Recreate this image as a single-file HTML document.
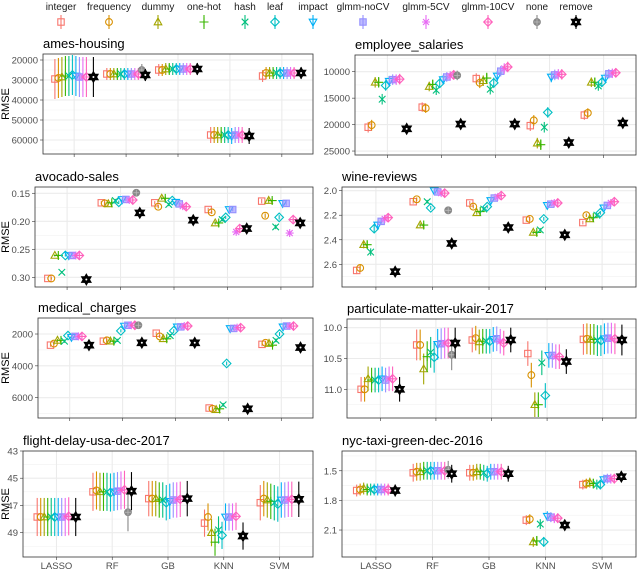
<!DOCTYPE html>
<html><head><meta charset="utf-8">
<style>
html,body{margin:0;padding:0;background:#fff;}
svg{display:block;font-family:"Liberation Sans",sans-serif;}
</style></head>
<body>
<svg id="chart" width="640" height="571" viewBox="0 0 640 571" xmlns="http://www.w3.org/2000/svg"></svg>
<script>
const categories = ["LASSO","RF","GB","KNN","SVM"];
const seriesNames = ["integer","frequency","dummy","one-hot","hash","leaf","impact","glmm-noCV","glmm-5CV","glmm-10CV","none","remove"];
const seriesColors = ["#F8766D","#D89000","#A3A500","#39B600","#00BF7D","#00BFC4","#00B0F6","#9590FF","#E76BF3","#FF62BC","#888888","#000000"];

const amesValues = [
[29500,27000,25000,57500,28000],[29000,27000,25000,57500,26500],[28500,27000,24500,57500,26500],
[28000,27000,24500,57500,26500],[28000,27000,24500,57500,26500],[27500,27000,24500,57500,26500],
[28000,27000,24500,58000,26500],[28500,27000,24500,57500,26500],[28500,27000,24500,57500,26500],
[28500,27000,24500,57500,26500],[null,25000,null,null,null],[28500,27500,24500,58000,26500]];
const amesErr = [10000,3000,3000,4000,3000];
const amesTicks = [20000,30000,40000,50000,60000];

const employeeValues = [
[20500,16700,11300,20200,18200],[20100,16900,12100,19200,17800],[12000,12800,11700,23500,12000],
[12000,12400,11200,23800,12000],[15200,13500,13300,20500,12700],[12600,12200,12100,17700,12000],
[11800,11500,10800,11000,11200],[11500,11000,9900,10600,10400],[11500,10800,9400,10500,10300],
[11400,10600,9100,10500,10200],[null,10700,null,null,null],[20800,19900,19900,23400,19700]];
const employeeErr = [1000,900,1000,1000,900];
const employeeTicks = [10000,15000,20000,25000];

const avocadoValues = [
[.302,.167,.167,.179,.164],[.302,.168,.174,.184,.190],[.261,.169,.159,.203,.163],
[.261,.167,.159,.203,.163],[.291,.163,.170,.197,.210],[.261,.166,.163,.193,.193],
[.261,.161,.166,.179,.168],[.261,.161,.169,.179,.168],[.261,.162,.173,.219,.221],
[.261,.162,.174,.213,.197],[null,.149,null,null,null],[.304,.185,.198,.213,.203]];
const avocadoErr = [.002,.003,.003,.003,.004];
const avocadoTicks = [0.15,0.20,0.25,0.30];

const wineValues = [
[2.65,2.09,2.10,2.24,2.26],[2.63,2.07,2.13,2.23,2.20],[2.44,2.28,2.18,2.34,2.23],
[2.44,2.28,2.17,2.34,2.22],[2.50,2.09,2.15,2.32,2.20],[2.31,2.14,2.13,2.23,2.18],
[2.28,2.00,2.08,2.12,2.14],[2.25,2.01,2.06,2.11,2.12],[2.23,2.02,2.05,2.10,2.10],
[2.22,2.02,2.04,2.10,2.09],[null,2.16,null,null,null],[2.66,2.43,2.30,2.36,null]];
const wineErr = [.03,.015,.015,.015,.015];
const wineTicks = [2.0,2.2,2.4,2.6];

const medicalValues = [
[2700,2450,1950,6650,2650],[2600,2400,2150,6700,2550],[2400,2450,2300,6750,2600],
[2400,2450,2300,6700,2700],[2450,2400,2100,6450,2400],[2100,1800,1800,3850,2000],
[2200,1500,1550,1650,1550],[2150,1450,1550,1650,1500],[2150,1450,1500,1600,1500],
[2150,1450,1500,1600,1500],[null,1450,null,null,null],[2700,2550,2550,6700,2850]];
const medicalErr = [100,100,100,120,120];
const medicalTicks = [2000,4000,6000];

const particulateValues = [
[11.0,10.28,10.2,10.42,10.19],[11.0,10.28,10.17,10.77,10.18],[10.83,10.67,10.23,11.25,10.19],
[10.85,10.47,10.22,11.25,10.19],[10.85,10.40,10.22,10.57,10.21],[10.85,10.48,10.22,11.10,10.21],
[10.83,10.27,10.19,10.45,10.18],[10.85,10.26,10.18,10.45,10.17],[10.83,10.25,10.22,10.47,10.17],
[10.83,10.25,10.25,10.47,10.18],[null,10.44,null,null,null],[11.0,10.25,10.2,10.55,10.2]];
const particulateErr = [.2,.25,.2,.2,.25];
const particulateTicks = ["10.0","10.5","11.0"];

const flightValues = [
[47.85,46.0,46.5,48.3,46.8],[47.85,45.9,46.5,47.85,46.5],[47.85,46.0,46.5,49.0,46.6],
[47.85,46.0,46.6,49.7,46.7],[47.85,46.0,46.6,48.8,46.8],[47.85,46.05,46.8,49.2,46.9],
[47.85,46.0,46.7,47.85,46.6],[47.85,45.95,46.6,47.85,46.6],[47.85,45.9,46.6,47.85,46.55],
[47.8,45.85,46.55,47.8,46.55],[null,47.5,null,null,null],[47.85,45.95,46.5,49.25,46.55]];
const flightErr = [1.4,1.4,1.3,1.0,1.3];
const flightTicks = [43,45,47,49];

const nycValues = [
[1.70,1.52,1.52,2.00,1.64],[1.69,1.51,1.52,1.99,1.63],[1.68,1.51,1.51,2.22,1.62],
[1.69,1.50,1.51,2.21,1.63],[1.69,1.50,1.52,2.04,1.64],[1.69,1.50,1.53,2.22,1.64],
[1.69,1.50,1.51,1.96,1.59],[1.69,1.50,1.51,1.97,1.58],[1.69,1.50,1.51,1.98,1.58],
[1.69,1.50,1.51,1.98,1.58],[null,1.49,null,null,null],[1.70,1.53,1.53,2.05,1.56]];
const nycErr = [.06,.09,.08,.05,.05];
const nycTicks = ["1.5","1.8","2.1"];

const NS="http://www.w3.org/2000/svg";
const svg=document.getElementById('chart');
function el(tag,attrs,parent){const e=document.createElementNS(NS,tag);for(const k in attrs)e.setAttribute(k,attrs[k]);(parent||svg).appendChild(e);return e;}

function shape(g,t,x,y,c){
  const s={stroke:c,fill:'none','stroke-width':1.1};
  if(t===0) el('rect',Object.assign({x:x-3.2,y:y-3.2,width:6.4,height:6.4},s),g);
  else if(t===1) el('circle',Object.assign({cx:x,cy:y,r:3.4},s),g);
  else if(t===2) el('polygon',Object.assign({points:`${x},${y-4} ${x-3.8},${y+2.8} ${x+3.8},${y+2.8}`},s),g);
  else if(t===3) el('path',Object.assign({d:`M${x-4.5},${y}H${x+4.5}M${x},${y-4.5}V${y+4.5}`},s),g);
  else if(t===4) el('path',Object.assign({d:`M${x-3.3},${y-3.3}L${x+3.3},${y+3.3}M${x-3.3},${y+3.3}L${x+3.3},${y-3.3}`},s),g);
  else if(t===5) el('polygon',Object.assign({points:`${x},${y-4.3} ${x+4.3},${y} ${x},${y+4.3} ${x-4.3},${y}`},s),g);
  else if(t===6) el('polygon',Object.assign({points:`${x},${y+4} ${x-3.8},${y-2.8} ${x+3.8},${y-2.8}`},s),g);
  else if(t===7){el('rect',{x:x-3.2,y:y-3.2,width:6.4,height:6.4,fill:c,'fill-opacity':0.6,stroke:c,'stroke-width':1.1},g);}
  else if(t===8) el('path',Object.assign({d:`M${x-4},${y}H${x+4}M${x},${y-4}V${y+4}M${x-3},${y-3}L${x+3},${y+3}M${x-3},${y+3}L${x+3},${y-3}`},s),g);
  else if(t===9){el('polygon',Object.assign({points:`${x},${y-4.3} ${x+4.3},${y} ${x},${y+4.3} ${x-4.3},${y}`},s),g);el('path',Object.assign({d:`M${x-4.3},${y}H${x+4.3}M${x},${y-4.3}V${y+4.3}`},s),g);}
  else if(t===10){el('circle',{cx:x,cy:y,r:3.4,fill:c,stroke:c,'stroke-width':1},g);el('path',{d:`M${x-3},${y}H${x+3}M${x},${y-3}V${y+3}`,stroke:'#bbb','stroke-width':0.8},g);}
  else if(t===11){const s2={stroke:c,fill:c,'stroke-width':1.2};
    el('polygon',Object.assign({points:`${x},${y-5.2} ${x-4.6},${y+2.7} ${x+4.6},${y+2.7}`},s2),g);
    el('polygon',Object.assign({points:`${x},${y+5.2} ${x-4.6},${y-2.7} ${x+4.6},${y-2.7}`},s2),g);
    el('circle',{cx:x,cy:y,r:1,fill:'#fff'},g);}
}

const legX=[61,109,158,204,245,275,313,363,426,488,537,576];
const leg=el('g',{});


seriesNames.forEach((n,i)=>{
  const g=el('g',{},leg);
  
  
  const t=el('text',{x:legX[i],y:10,'font-size':10,'text-anchor':'middle',fill:'#1a1a1a'},g);t.textContent=n;
  el('line',{x1:legX[i],x2:legX[i],y1:15,y2:29,stroke:seriesColors[i],'stroke-width':1.1},g);
  shape(g,i,legX[i],22,seriesColors[i]);
});

const panels=[
 {name:'ames-housing',vals:amesValues,err:amesErr,ticks:amesTicks,box:[43,54,313,154],dom:[17000,67000],step:10000,rmse:true},
 {name:'employee_salaries',vals:employeeValues,err:employeeErr,ticks:employeeTicks,box:[355,55,636,155],dom:[6840,25750],step:5000},
 {name:'avocado-sales',vals:avocadoValues,err:avocadoErr,ticks:avocadoTicks,box:[35,187,313,287],dom:[0.1388,0.3173],step:0.05,rmse:true,fmt:v=>v.toFixed(2)},
 {name:'wine-reviews',vals:wineValues,err:wineErr,ticks:wineTicks,box:[342,187,636,287],dom:[1.97,2.785],step:0.2,fmt:v=>v.toFixed(1)},
 {name:'medical_charges',vals:medicalValues,err:medicalErr,ticks:medicalTicks,box:[38,318,313,418],dom:[994,7277],step:2000,rmse:true},
 {name:'particulate-matter-ukair-2017',vals:particulateValues,err:particulateErr,ticks:particulateTicks,box:[347,319,636,418],dom:[9.859,11.466],step:0.5},
 {name:'flight-delay-usa-dec-2017',vals:flightValues,err:flightErr,ticks:flightTicks,box:[23,451,313,557],dom:[43,50.79],step:2,rmse:true,xl:true},
 {name:'nyc-taxi-green-dec-2016',vals:nycValues,err:nycErr,ticks:nycTicks,box:[342,451,636,557],dom:[1.30,2.373],step:0.3,xl:true}
];

panels.forEach(p=>{
  const [x0,y0,x1,y1]=p.box;
  const g=el('g',{});
  
  
  const ys=v=>y0+(v-p.dom[0])/(p.dom[1]-p.dom[0])*(y1-y0);
  const bw=(x1-x0)/5.2;
  const xs=i=>x0+(i+0.6)*bw;
  const tt=el('text',{x:x0,y:y0-6,'font-size':13,fill:'#000'},g);tt.textContent=p.name;
  
  
  el('rect',{x:x0,y:y0,width:x1-x0,height:y1-y0,fill:'#fff'},g);
  const tv=p.ticks.map(Number);
  const minors=tv.map(v=>v-p.step/2).concat([tv[tv.length-1]+p.step/2]);
  minors.forEach(v=>{const y=ys(v);if(y>y0&&y<y1)el('line',{x1:x0,x2:x1,y1:y,y2:y,stroke:'#f2f2f2','stroke-width':0.6},g);});
  tv.forEach((v,k)=>{const y=ys(v);el('line',{x1:x0,x2:x1,y1:y,y2:y,stroke:'#ebebeb','stroke-width':1.1},g);
    el('line',{x1:x0-3,x2:x0,y1:y,y2:y,stroke:'#333','stroke-width':0.6},g);
    const t=el('text',{x:x0-5,y:y+3.5,'font-size':9.5,'text-anchor':'end',fill:'#4d4d4d'},g);
    t.textContent=typeof p.ticks[k]==='string'?p.ticks[k]:(p.fmt?p.fmt(v):String(v));});
  categories.forEach((c,i)=>{const x=xs(i);el('line',{x1:x,x2:x,y1:y0,y2:y1,stroke:'#ebebeb','stroke-width':1.1},g);
    el('line',{x1:x,x2:x,y1:y1,y2:y1+3,stroke:'#333','stroke-width':0.6},g);
    if(p.xl){const t=el('text',{x:x,y:y1+12,'font-size':9.5,'text-anchor':'middle',fill:'#4d4d4d'},g);t.textContent=c;}
  });
  const cp='cp'+p.name.replace(/[^a-z0-9]/gi,'');
  const cl=el('clipPath',{id:cp},g);el('rect',{x:x0,y:y0,width:x1-x0,height:y1-y0},cl);
  const dg=el('g',{'clip-path':`url(#${cp})`},g);
  p.vals.forEach((row,s)=>{
    row.forEach((v,i)=>{
      if(v===null)return;
      const x=xs(i)+(s-5.5)*3.5;
      const m=el('g',{},dg);
      
      
      const e=p.err[i];
      el('line',{x1:x,x2:x,y1:ys(v-e),y2:ys(v+e),stroke:seriesColors[s],'stroke-width':1.1},m);
      shape(m,s,x,ys(v),seriesColors[s]);
    });
  });
  el('rect',{x:x0,y:y0,width:x1-x0,height:y1-y0,fill:'none',stroke:'#333','stroke-width':0.8},g);
  if(p.rmse){const yc=(y0+y1)/2;const t=el('text',{x:9,y:yc,'font-size':11,'text-anchor':'middle',fill:'#000',transform:`rotate(-90 9 ${yc})`},g);t.textContent='RMSE';
    
    }
});
</script>
</body></html>
